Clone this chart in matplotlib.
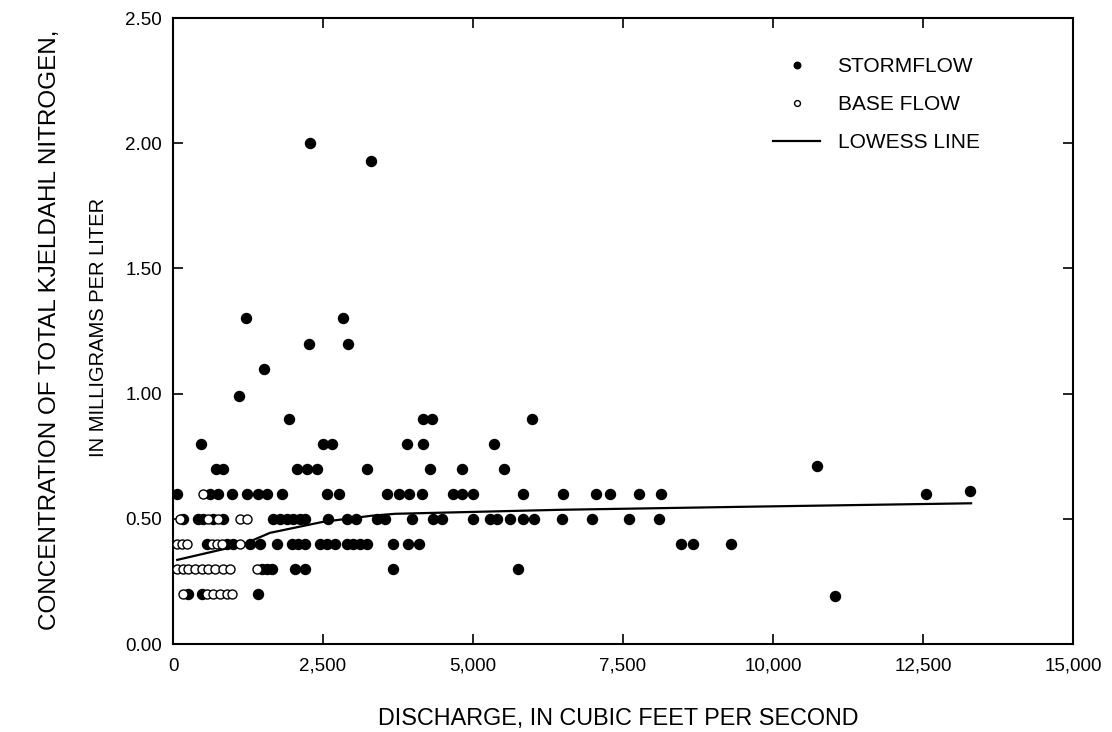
import numpy as np
import matplotlib
matplotlib.use('Agg')
import matplotlib.pyplot as plt
from matplotlib.ticker import FuncFormatter

plt.rcParams['font.family'] = ['Liberation Sans', 'DejaVu Sans']

# stormflow samples (discharge, concentration)
storm_q = [2283, 3300, 1217, 2833, 2267, 2917, 1517, 1100,
           1933, 4167, 4317, 5983,
           467, 2500, 2650, 3900, 4167, 5350,
           10733,
           717, 833, 2067, 2233, 2400, 3233, 4283, 4817, 5517,
           67, 617, 750, 983, 1233, 1417, 1567, 1817, 2567, 2767, 3567, 3767,
           3933, 4150, 4667, 4817, 5000, 5833, 6500, 7050, 7283, 7767, 8133, 12550,
           13283,
           167, 417, 500, 667, 833, 1667, 1783, 1900, 2000, 2117, 2200, 2583,
           2900, 3050, 3400, 3533, 3983, 4333, 4483, 5000, 5283, 5400, 5617,
           5833, 6017, 6483, 6983, 7600, 8100,
           567, 900, 1000, 1283, 1450, 1733, 1983, 2083, 2200, 2450, 2567,
           2700, 2900, 3000, 3117, 3233, 3667, 3917, 4100, 8467, 8667, 9300,
           1483, 1567, 1650, 2033, 2200, 3667, 5750,
           250, 483, 1417, 11033]
storm_c = [2.00, 1.93, 1.30, 1.30, 1.20, 1.20, 1.10, 0.99,
           0.90, 0.90, 0.90, 0.90,
           0.80, 0.80, 0.80, 0.80, 0.80, 0.80,
           0.71,
           0.70, 0.70, 0.70, 0.70, 0.70, 0.70, 0.70, 0.70, 0.70,
           0.60, 0.60, 0.60, 0.60, 0.60, 0.60, 0.60, 0.60, 0.60, 0.60, 0.60, 0.60,
           0.60, 0.60, 0.60, 0.60, 0.60, 0.60, 0.60, 0.60, 0.60, 0.60, 0.60, 0.60,
           0.61,
           0.50, 0.50, 0.50, 0.50, 0.50, 0.50, 0.50, 0.50, 0.50, 0.50, 0.50, 0.50,
           0.50, 0.50, 0.50, 0.50, 0.50, 0.50, 0.50, 0.50, 0.50, 0.50, 0.50,
           0.50, 0.50, 0.50, 0.50, 0.50, 0.50,
           0.40, 0.40, 0.40, 0.40, 0.40, 0.40, 0.40, 0.40, 0.40, 0.40, 0.40,
           0.40, 0.40, 0.40, 0.40, 0.40, 0.40, 0.40, 0.40, 0.40, 0.40, 0.40,
           0.30, 0.30, 0.30, 0.30, 0.30, 0.30, 0.30,
           0.20, 0.20, 0.20, 0.19]

# base flow samples
base_q = [500,
          117, 583, 750, 1117, 1233,
          67, 150, 233, 650, 733, 817, 1117,
          67, 167, 250, 367, 483, 583, 700, 833, 950, 1400,
          167, 567, 667, 783, 900, 983]
base_c = [0.60,
          0.50, 0.50, 0.50, 0.50, 0.50,
          0.40, 0.40, 0.40, 0.40, 0.40, 0.40, 0.40,
          0.30, 0.30, 0.30, 0.30, 0.30, 0.30, 0.30, 0.30, 0.30, 0.30,
          0.20, 0.20, 0.20, 0.20, 0.20, 0.20]

# lowess curve
lowess_q = [70, 1150, 1617, 2500, 3300, 3700, 6450, 9500, 13300]
lowess_c = [0.336, 0.396, 0.444, 0.488, 0.512, 0.520, 0.536, 0.548, 0.562]

fig = plt.figure(figsize=(11.12, 7.32), dpi=100)
ax = fig.add_axes([0.1556, 0.1202, 0.8094, 0.8552])

ax.plot(storm_q, storm_c, 'o', color='black', markersize=7.2, mec='black',
        label='STORMFLOW', zorder=3)
ax.plot(base_q, base_c, 'o', mfc='white', mec='black', mew=1.0, markersize=6.5,
        label='BASE FLOW', zorder=4)
ax.plot(lowess_q, lowess_c, '-', color='black', lw=1.6, label='LOWESS LINE', zorder=2)

ax.set_xlim(0, 15000)
ax.set_ylim(0, 2.5)
ax.set_xticks(np.arange(0, 15001, 2500))
ax.set_yticks(np.arange(0, 2.51, 0.5))
ax.xaxis.set_major_formatter(FuncFormatter(lambda v, p: '{:,.0f}'.format(v)))
ax.yaxis.set_major_formatter(FuncFormatter(lambda v, p: '{:.2f}'.format(v)))
ax.tick_params(direction='in', length=7, width=1.2, top=True, right=True,
               labelsize=13.5)
ax.tick_params(axis='x', pad=10)
ax.tick_params(axis='y', pad=8)
for s in ax.spines.values():
    s.set_linewidth(1.5)

leg = ax.legend(loc='upper left', bbox_to_anchor=(0.667, 0.937), frameon=False,
                fontsize=15, markerscale=0.65, handlelength=2.26, handletextpad=0.82,
                labelspacing=0.9, borderpad=0, borderaxespad=0)

fig.text(0.556, 0.019, 'DISCHARGE, IN CUBIC FEET PER SECOND', ha='center', va='center',
         fontsize=16.8)
fig.text(0.045, 0.55, 'CONCENTRATION OF TOTAL KJELDAHL NITROGEN,', rotation=90,
         ha='center', va='center', fontsize=17.5)
fig.text(0.089, 0.552, 'IN MILLIGRAMS PER LITER', rotation=90,
         ha='center', va='center', fontsize=14.5)

fig.savefig('out.png', dpi=100)
